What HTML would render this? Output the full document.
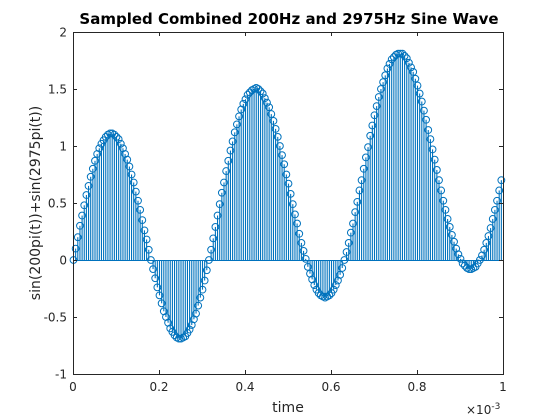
<!DOCTYPE html>
<html><head><meta charset="utf-8"><style>
html,body{margin:0;padding:0;background:#fff;}
svg{display:block;font-family:"DejaVu Sans","Liberation Sans",sans-serif;}
</style></head><body>
<svg id="chart" width="560" height="420" viewBox="0 0 560 420">
<rect x="0" y="0" width="560" height="420" fill="#fff"/>
<rect x="73" y="32" width="430" height="342" fill="#fff"/>
<g id="stems"></g>
<g id="axes"></g>
<text x="289" y="24" text-anchor="middle" font-size="15" font-weight="bold" fill="#000">Sampled Combined 200Hz and 2975Hz Sine Wave</text>
<text x="288" y="412" text-anchor="middle" font-size="14" fill="#262626">time</text>
<text transform="translate(40,203) rotate(-90)" text-anchor="middle" font-size="14" fill="#262626">sin(200pi(t))+sin(2975pi(t))</text>
<text x="466" y="414" font-size="12" fill="#262626">×10<tspan dy="-5" font-size="9">-3</tspan></text>
</svg>
<script>
const xTicks = [0, 0.2, 0.4, 0.6, 0.8, 1];
const xTickLabels = ["0", "0.2", "0.4", "0.6", "0.8", "1"];
const yTicks = [-1, -0.5, 0, 0.5, 1, 1.5, 2];
const yTickLabels = ["-1", "-0.5", "0", "0.5", "1", "1.5", "2"];
const sampleStep = 0.005;
const values = [0,.10,.20,.30,.39,.48,.57,.65,.73,.80,.87,.93,.98,1.02,1.05,1.08,1.10,1.11,1.11,1.10,
1.08,1.06,1.02,.98,.93,.88,.82,.75,.68,.60,.52,.44,.35,.26,.18,.09,.00,-.08,-.16,-.24,
-.31,-.38,-.45,-.50,-.55,-.60,-.63,-.66,-.68,-.69,-.69,-.68,-.67,-.64,-.61,-.57,-.52,-.47,-.40,-.33,
-.26,-.18,-.09,.00,.09,.19,.29,.39,.49,.59,.68,.78,.87,.96,1.04,1.12,1.19,1.26,1.32,1.37,
1.41,1.45,1.47,1.49,1.50,1.51,1.50,1.48,1.46,1.42,1.38,1.34,1.28,1.22,1.15,1.08,1.00,.92,.84,.75,
.67,.58,.49,.40,.32,.23,.15,.08,.01,-.06,-.12,-.17,-.22,-.26,-.29,-.31,-.32,-.33,-.32,-.31,
-.29,-.26,-.22,-.18,-.13,-.07,.00,.07,.15,.24,.32,.42,.51,.61,.70,.80,.90,.99,1.09,1.18,
1.27,1.35,1.43,1.50,1.56,1.62,1.68,1.72,1.76,1.78,1.80,1.81,1.81,1.81,1.79,1.77,1.73,1.69,1.65,1.59,
1.53,1.46,1.39,1.31,1.23,1.14,1.06,.97,.88,.79,.70,.61,.52,.44,.36,.29,.22,.16,.10,.05,
.01,-.03,-.05,-.07,-.08,-.08,-.07,-.06,-.03,.00,.04,.09,.15,.21,.28,.36,.44,.52,.61,.70];

const NS = "http://www.w3.org/2000/svg";
const X0 = 73, X1 = 503, Y0 = 374, Y1 = 32;
const xMin = 0, xMax = 1, yMin = -1, yMax = 2;
function xs(v){ return X0 + (v - xMin) / (xMax - xMin) * (X1 - X0); }
function ys(v){ return Y0 - (v - yMin) / (yMax - yMin) * (Y0 - Y1); }
function mk(tag, attrs, parent){
  const e = document.createElementNS(NS, tag);
  for (const k in attrs) e.setAttribute(k, attrs[k]);
  parent.appendChild(e);
  return e;
}
const stems = document.getElementById("stems");
const col = "#0072BD";
values.forEach(function(v, i){
  const x = xs(i * sampleStep) + 0.5;
  const ln = mk("line", {x1: x, x2: x, y1: ys(0), y2: ys(v), stroke: col, "stroke-width": 1.1}, stems);
  
  
});
const base = mk("line", {x1: X0, x2: X1, y1: ys(0) + 0.5, y2: ys(0) + 0.5, stroke: col, "stroke-width": 1, "shape-rendering": "crispEdges"}, stems);


values.forEach(function(v, i){
  const c = mk("circle", {cx: xs(i * sampleStep) + 0.5, cy: ys(v), r: 3.4, fill: "none", stroke: col, "stroke-width": 1}, stems);
  
  
});

const axes = document.getElementById("axes");
const box = mk("rect", {x: X0 + 0.5, y: Y1 + 0.5, width: X1 - X0, height: Y0 - Y1, fill: "none", stroke: "#262626", "stroke-width": 1, "shape-rendering": "crispEdges"}, axes);


xTicks.forEach(function(v, i){
  const x = Math.round(xs(v)) + 0.5;
  const t1 = mk("line", {x1: x, x2: x, y1: Y0, y2: Y0 - 4, stroke: "#262626"}, axes);
  
  
  const t2 = mk("line", {x1: x, x2: x, y1: Y1, y2: Y1 + 4, stroke: "#262626"}, axes);
  
  
  const lb = mk("text", {x: xs(v), y: Y0 + 17, "text-anchor": "middle", "font-size": 12, fill: "#262626"}, axes);
  lb.textContent = xTickLabels[i];
  
  
});
yTicks.forEach(function(v, i){
  const y = Math.round(ys(v)) + 0.5;
  const t1 = mk("line", {x1: X0, x2: X0 + 4, y1: y, y2: y, stroke: "#262626"}, axes);
  
  
  const t2 = mk("line", {x1: X1, x2: X1 - 4, y1: y, y2: y, stroke: "#262626"}, axes);
  
  
  const lb = mk("text", {x: X0 - 6, y: ys(v) + 4.5, "text-anchor": "end", "font-size": 12, fill: "#262626"}, axes);
  lb.textContent = yTickLabels[i];
  
  
});
</script>
</body></html>
